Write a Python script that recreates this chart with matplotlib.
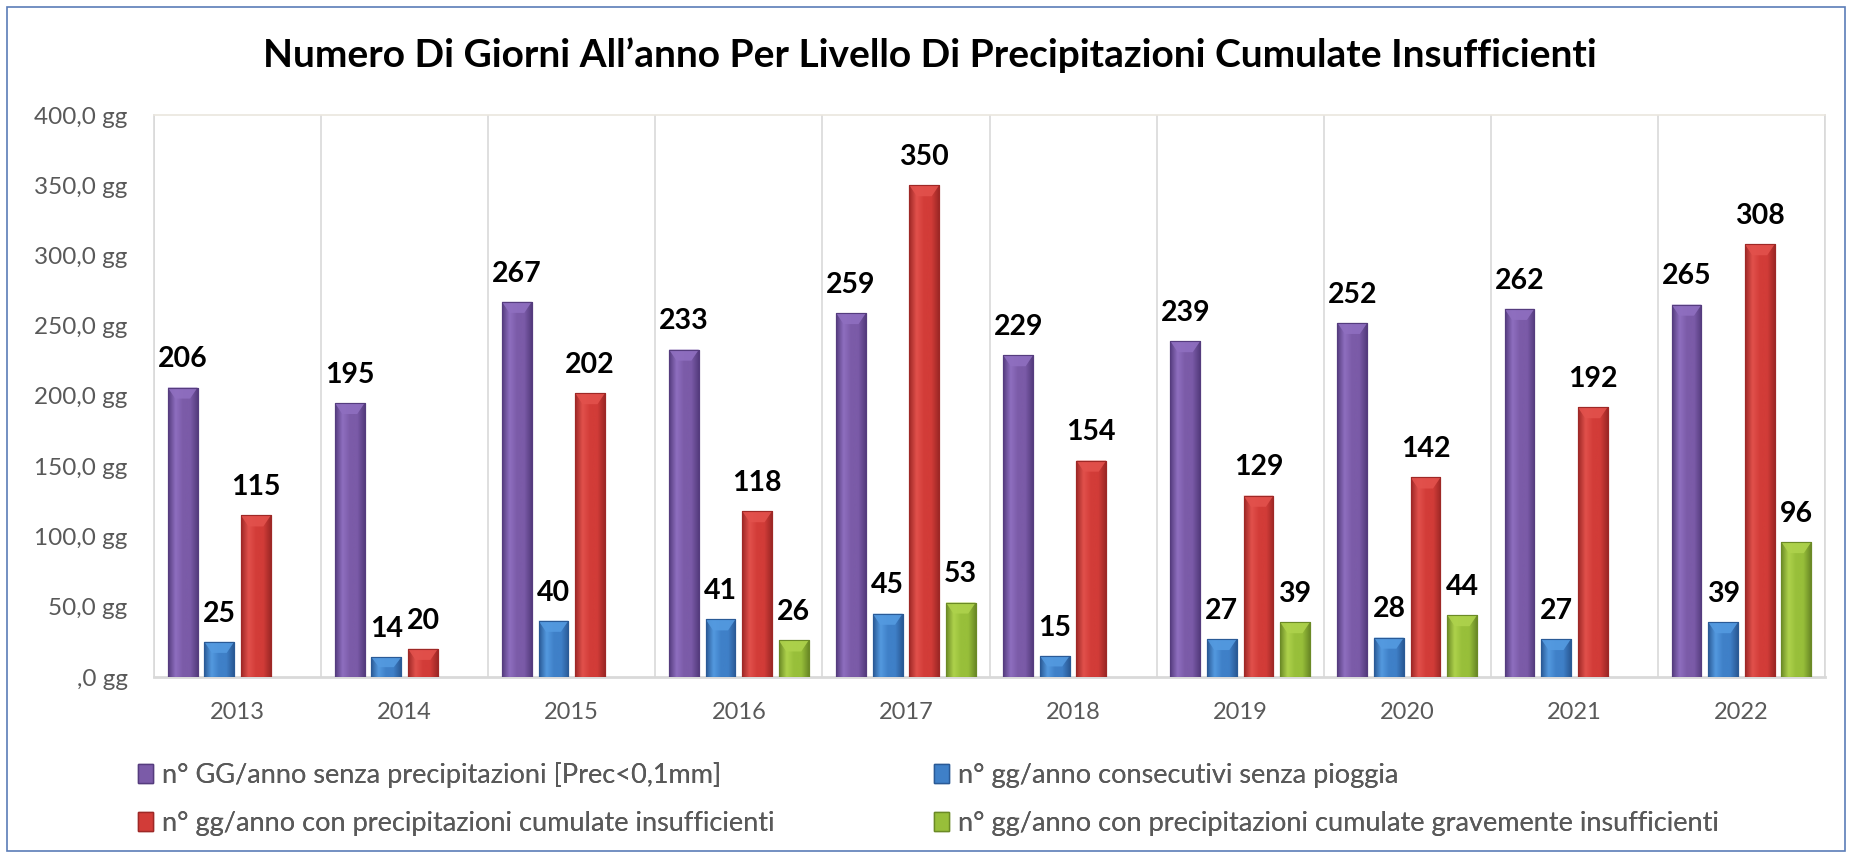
import matplotlib
matplotlib.use("Agg")
import matplotlib.pyplot as plt
import numpy as np
from matplotlib.patches import Patch, Polygon, Rectangle
from matplotlib.colors import LinearSegmentedColormap

plt.rcParams['font.family'] = ['Lato', 'DejaVu Sans']

# data
years = ['2013', '2014', '2015', '2016', '2017', '2018', '2019', '2020', '2021', '2022']
gg_senza_prec = [206, 195, 267, 233, 259, 229, 239, 252, 262, 265]
gg_consecutivi = [25, 14, 40, 41, 45, 15, 27, 28, 27, 39]
gg_insufficienti = [115, 20, 202, 118, 350, 154, 129, 142, 192, 308]
gg_grav_insufficienti = [None, None, None, 26, 53, None, 39, 44, None, 96]

labels = ['n° GG/anno senza precipitazioni [Prec<0,1mm]',
          'n° gg/anno consecutivi senza pioggia',
          'n° gg/anno con precipitazioni cumulate insufficienti',
          'n° gg/anno con precipitazioni cumulate gravemente insufficienti']
series = [gg_senza_prec, gg_consecutivi, gg_insufficienti, gg_grav_insufficienti]
# (base, light, dark)
colors = [('#7B5BA8', '#8F6FC0', '#553C7E'),
          ('#3F80C8', '#549AE0', '#2A5A96'),
          ('#D23C38', '#E2514C', '#9E2826'),
          ('#98BF3A', '#AED24C', '#6B8A26')]

W, H = 1852, 858
fig = plt.figure(figsize=(W / 100, H / 100), dpi=100)
ax = fig.add_axes([154 / W, 181 / H, (1825 - 154) / W, (743 - 181) / H])

x = np.arange(len(years))
width = 0.178
step = 0.219
offsets = (np.arange(4) - 1.5) * step

ax.set_xlim(-0.5, len(years) - 0.5)
ax.set_ylim(0, 400)

px_y = 400 / (743 - 181)  # data units per pixel

for k, (vals, lab, (base, light, dark)) in enumerate(zip(series, labels, colors)):
    v = np.array([np.nan if a is None else a for a in vals], dtype=float)
    bars = ax.bar(x + offsets[k], np.nan_to_num(v), width, color=base,
                  edgecolor=dark, linewidth=0.8, label=lab, zorder=3)
    cmap = LinearSegmentedColormap.from_list('g', [dark, light, base, base, dark])
    grad = np.linspace(0, 1, 64).reshape(1, -1)
    for b, val in zip(bars, v):
        if np.isnan(val):
            b.set_visible(False)
            continue
        x0, w_, h_ = b.get_x(), b.get_width(), b.get_height()
        im = ax.imshow(grad, cmap=cmap, aspect='auto', extent=[x0, x0 + w_, 0, h_],
                       zorder=3.5, interpolation='bicubic')
        im.set_clip_path(b)
        # top bevel
        bev = min(11 * px_y, h_ * 0.5)
        ax.add_patch(Polygon([[x0, h_], [x0 + w_, h_], [x0 + w_ * 0.75, h_ - bev],
                              [x0 + w_ * 0.25, h_ - bev]], closed=True,
                             facecolor=light, edgecolor='none', alpha=0.9, zorder=4))
        ax.add_patch(Rectangle((x0, 0), w_, h_, fill=False, edgecolor=dark,
                               linewidth=0.8, zorder=4))
        ax.annotate(f'{int(val)}', (x0 + w_ / 2, h_), xytext=(0, 11),
                    textcoords='offset points', ha='center', va='bottom',
                    fontsize=20.5, fontweight='bold', color='black', zorder=5)

ax.set_xticks(x)
ax.set_xticklabels(years, fontsize=17, color='#595959')
yt = np.arange(0, 401, 50)
ax.set_yticks(yt)
ax.set_yticklabels([',0 gg' if t == 0 else f'{t:.1f} gg'.replace('.', ',') for t in yt],
                   fontsize=17.5, color='#595959')
ax.tick_params(length=0)
ax.tick_params(axis='y', pad=19)
ax.tick_params(axis='x', pad=18)

for b in np.arange(-0.5, len(years), 1):
    ax.axvline(b, color='#D9D9D9', linewidth=1.2, zorder=1)
for s in ax.spines.values():
    s.set_color('#D9D9D9')
    s.set_linewidth(1.2)
ax.spines['top'].set_color('#EAE6DE')
ax.spines['bottom'].set_linewidth(2)

fig.suptitle('Numero Di Giorni All’anno Per Livello Di Precipitazioni Cumulate Insufficienti',
             x=930 / W, y=1 - 55 / H, va='center', fontsize=28, fontweight='bold')

# legend, one entry per slot: (handle index, x of marker, y centre) in pixels
legend_slots = [(0, 138, 775), (1, 934, 775), (2, 138, 823), (3, 934, 823)]
for i, lx, ly in legend_slots:
    h = Patch(facecolor=colors[i][0], edgecolor=colors[i][2])
    lg = fig.legend([h], [labels[i]], loc='center left',
                    bbox_to_anchor=(lx / W, 1 - ly / H), frameon=False, fontsize=19.5,
                    labelcolor='#595959', handlelength=0.55, handleheight=0.7,
                    handletextpad=0.35, borderpad=0, borderaxespad=0)
    fig.add_artist(lg)

fig.patches.append(Rectangle((7 / W, 7 / H), 1 - 14 / W, 1 - 14 / H, transform=fig.transFigure,
                             fill=False, edgecolor='#5B7DB8', linewidth=1.2))

fig.savefig('out.png', dpi=100)
